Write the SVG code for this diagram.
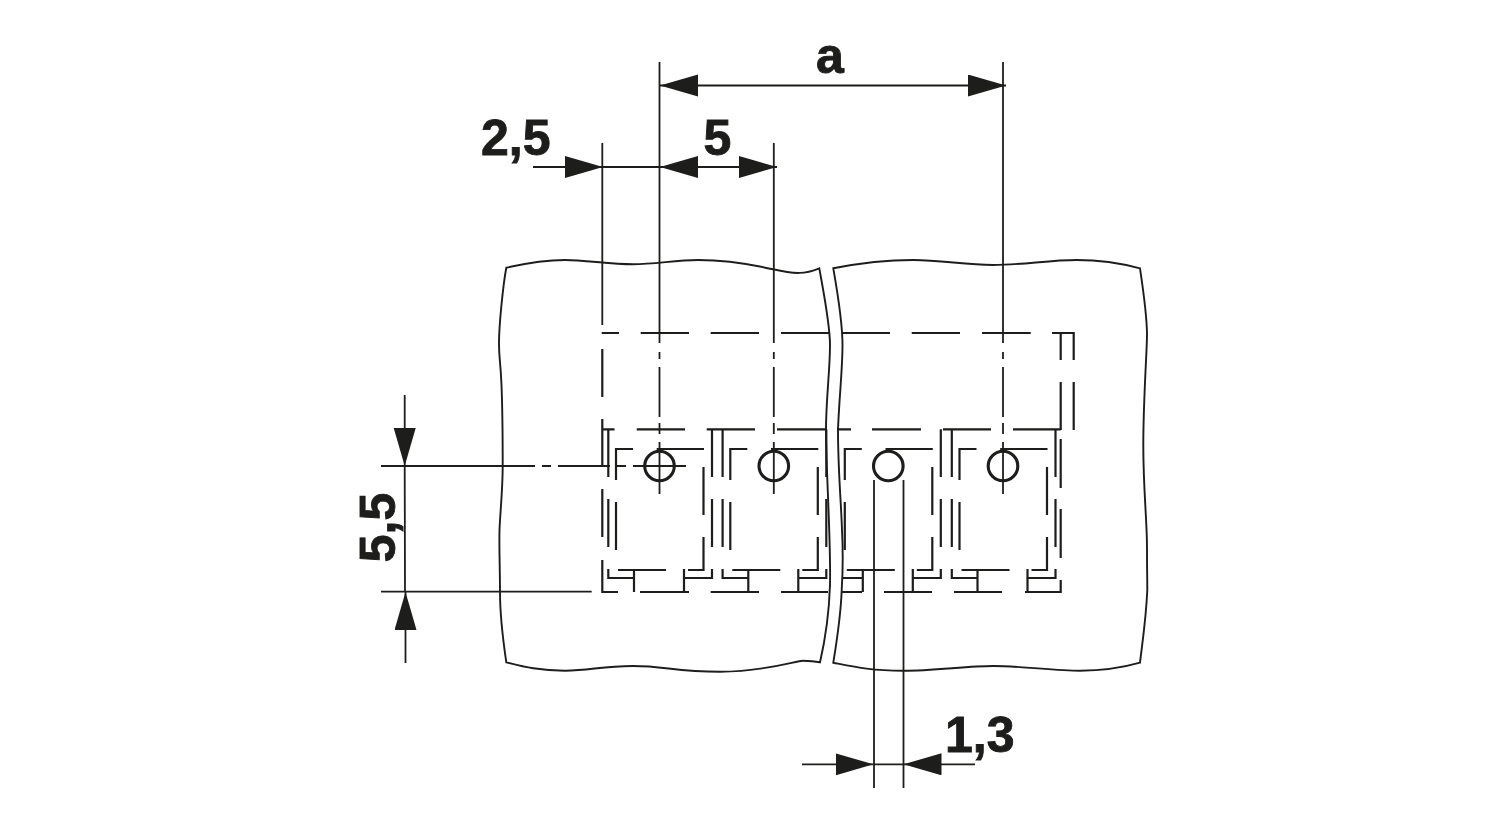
<svg xmlns="http://www.w3.org/2000/svg" xmlns:xlink="http://www.w3.org/1999/xlink" width="1500" height="820" viewBox="0 0 1500 820">
<style>
.sheet{fill:none;stroke:#1d1d1b;stroke-width:1.9;stroke-linejoin:miter}
.dash{fill:none;stroke:#1d1d1b;stroke-width:2.2}
.thin{fill:none;stroke:#1d1d1b;stroke-width:1.8}
.pin{fill:none;stroke:#1d1d1b;stroke-width:3.1}
.lbl{font-family:"Liberation Sans",Arial,sans-serif;font-weight:700;font-size:50px;fill:#1d1d1b;stroke:#1d1d1b;stroke-width:0.9}
</style>
<defs>
<marker id="arr" markerUnits="userSpaceOnUse" markerWidth="40" markerHeight="24" refX="38" refY="11" orient="auto-start-reverse"><path d="M0 0L38 11L0 22Z" fill="#1d1d1b"/></marker>
<path id="cellBody" d="M-51.2 429.3V477M-51.2 499V547M-51.2 569V578H-25.5M-26.5 449H-43.5V480M-43.5 502V550M-2.8 449H44.5M44 467V515M44 537V570H28.5M-41.5 570H6.5M-25.5 570V592M24.5 569V592M24.5 578H52.5V569M52.5 429.3V477M52.5 499V547"/>
</defs>
<rect width="1500" height="820" fill="#fff"/>
<g id="sheet-left"><path class="sheet" d="M506.3 267.7C525 263.5 545 260 565 260S610 264.3 633 264.3S675 260 698 260S750 264 773 269.3S805 274 819.3 268.3C825 300 830 325 830 345C830 370 826 400 826 430C826 470 831 540 830 585C829 615 824 645 820 662.3C814 661 810 660.7 803 660.7S765 671.7 720 671.7S665 666 633 666S590 670.7 565 670.7S525 667 506.3 662.3C503 640 500 615 500 592S499 545 499.5 530S502.7 490 502.7 466S502.5 410 501.5 385S499 360 499 343S503 285 506.3 267.7Z"/></g>
<g id="sheet-right"><path class="sheet" d="M833.3 268.3C855 264 885 260 913.3 260S965 265 993 265S1050 260 1076.7 260S1120 263 1140 268.3C1144 295 1147 320 1147 335S1143.3 400 1143.3 445S1147 520 1147 547S1147.3 575 1147.3 590C1146 620 1142 645 1140 662.7C1125 667 1105 670.7 1080 670.7S1020 666 993.3 666S935 670.7 903 670.7S855 667 833.3 662.7C837 640 841 610 841.7 590C843 570 843 550 842 530C841 500 838 470 838 430C839 400 842.5 370 842.5 345C842.5 325 838 295 833.3 268.3Z"/></g>
<g id="housing" class="dash">
<path d="M601.7 333H619M640.7 333H689M710.7 333H759M781 333H829M842 333H890M911.7 333H960M982 333H1030.7M1052 333H1073.7V360M1060.7 333V360M1060.7 382V430M1073.7 382V430"/>
<path d="M602.3 349V397M602.3 419V467M602.3 489V537M602.3 560V592H618"/>
<path d="M602.3 429.3H614.5M636.7 429.3H685M706.7 429.3H755M777 429.3H825M837 429.3H851M872 429.3H921M943 429.3H991M1013 429.3H1060.7"/>
<path d="M640 592H689M710.7 592H759M781 592H828M842 592H862M884 592H932M954 592H1002M1025 592H1060.7V580M1060.7 439V488M1060.7 509V558"/>
</g>
<g id="cell-1" class="dash"><use xlink:href="#cellBody" href="#cellBody" x="659.5"/></g>
<g id="cell-2" class="dash"><use xlink:href="#cellBody" href="#cellBody" x="773.8"/></g>
<g id="cell-3" class="dash"><path d="M842 578H862.8M861.8 449H844.8V480M844.8 502V550M885.5 449H932.8M932.3 467V515M932.3 537V570H916.8M846.8 570H894.8M862.8 570V592M912.8 569V592M912.8 578H940.8V569M940.8 429.3V477M940.8 499V547"/></g>
<g id="cell-4" class="dash"><use xlink:href="#cellBody" href="#cellBody" x="1003"/></g>
<g id="pin-1"><circle class="pin" cx="659.5" cy="466" r="14.8"/></g>
<g id="pin-2"><circle class="pin" cx="773.8" cy="466" r="14.8"/></g>
<g id="pin-3"><circle class="pin" cx="888.3" cy="466" r="14.8"/></g>
<g id="pin-4"><circle class="pin" cx="1003" cy="466" r="14.8"/></g>
<g id="connectors" class="thin">
<path d="M602.3 143V325M659.5 62V343M659.5 352V359M659.5 367V417M659.5 423V434M659.5 442V494M773.8 143V343M773.8 352V359M773.8 367V417M773.8 423V434M773.8 442V494M1003 62V343M1003 352V359M1003 367V417M1003 423V434M1003 442V494"/>
<path d="M381 466H535M542 466H551M558 466H610M616 466H626M633 466H686M381 591.7H591.7M874 480V788M903.5 480V788M404.7 466L405 592M603 167H660M873.5 764.3H903.5"/>
<line x1="660" y1="85.5" x2="1006" y2="85.5" marker-start="url(#arr)" marker-end="url(#arr)"/>
<line x1="533" y1="167" x2="603" y2="167" marker-end="url(#arr)"/>
<line x1="660" y1="167" x2="777" y2="167" marker-start="url(#arr)" marker-end="url(#arr)"/>
<line x1="404.7" y1="395" x2="404.7" y2="466" marker-end="url(#arr)"/>
<line x1="405.5" y1="663" x2="405.5" y2="592" marker-end="url(#arr)"/>
<line x1="802" y1="764.3" x2="873.5" y2="764.3" marker-end="url(#arr)"/>
<line x1="975" y1="764.3" x2="903.5" y2="764.3" marker-end="url(#arr)"/>
</g>
<g id="labels">
<text class="lbl" x="816" y="73">a</text>
<text class="lbl" x="481" y="155">2,5</text>
<text class="lbl" x="703.5" y="155">5</text>
<text class="lbl" x="945" y="752">1,3</text>
<text class="lbl" text-anchor="middle" transform="translate(394.5 527.5) rotate(-90)">5,5</text>
</g>
</svg>
